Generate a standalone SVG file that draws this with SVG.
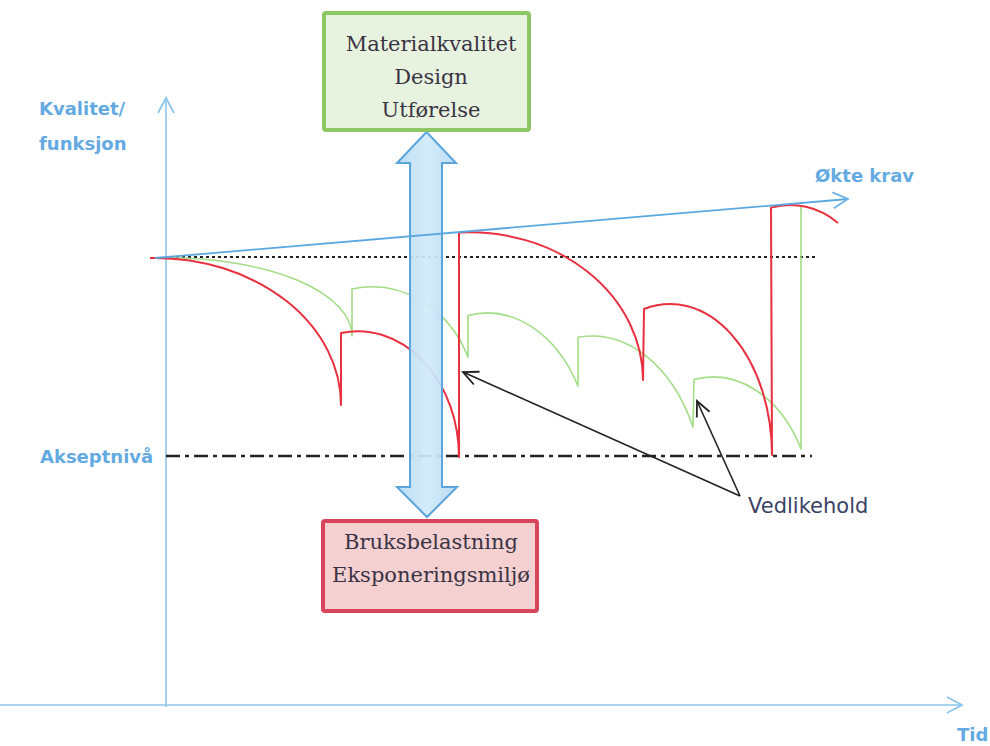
<svg xmlns="http://www.w3.org/2000/svg" width="990" height="746" viewBox="0 0 990 746">
  <style>
    .axis { stroke: #8cc4ea; stroke-width: 1.6; fill: none; }
    .lbl { font-family: "DejaVu Sans", "Liberation Sans", sans-serif; font-weight: bold; font-size: 18px; fill: #64aae2; }
    .box-txt { font-family: "DejaVu Serif", "Liberation Serif", serif; font-size: 21px; fill: #3a3344; text-anchor: middle; }
    .red { stroke: #e8303f; stroke-width: 2; fill: none; stroke-linejoin: round; }
    .green { stroke: #a3dd85; stroke-width: 1.6; fill: none; stroke-linejoin: round; }
    .pointer { stroke: #222; stroke-width: 1.6; fill: none; }
  </style>
  <defs>
    <marker id="openBlue" markerUnits="userSpaceOnUse" markerWidth="18" markerHeight="20" refX="16" refY="10" orient="auto">
      <path d="M1,2 L16,10 L1,18" fill="none" stroke="#6fb2e6" stroke-width="1.8"/>
    </marker>
    <marker id="openAxis" markerUnits="userSpaceOnUse" markerWidth="18" markerHeight="20" refX="16" refY="10" orient="auto">
      <path d="M1,2 L16,10 L1,18" fill="none" stroke="#8cc4ea" stroke-width="1.8"/>
    </marker>
    <marker id="openBlack" markerUnits="userSpaceOnUse" markerWidth="18" markerHeight="18" refX="16" refY="9" orient="auto">
      <path d="M1,2 L16,9 L1,16" fill="none" stroke="#222" stroke-width="1.8"/>
    </marker>
    <linearGradient id="arrowFill" x1="0" y1="0" x2="1" y2="0">
      <stop offset="0" stop-color="#b4d9f3"/>
      <stop offset="0.5" stop-color="#d2eaf9"/>
      <stop offset="1" stop-color="#b4d9f3"/>
    </linearGradient>
  </defs>

  <g id="axes">
    <line class="axis" x1="166" y1="707" x2="166" y2="98" marker-end="url(#openAxis)"/>
    <line class="axis" x1="0" y1="705" x2="962" y2="705" marker-end="url(#openAxis)"/>
  </g>

  <g id="levels">
    <line x1="170" y1="257" x2="815" y2="257" stroke="#222" stroke-width="2.2" stroke-dasharray="3 3"/>
    <line x1="166" y1="456" x2="812" y2="456" stroke="#222" stroke-width="2.5" stroke-dasharray="14 5 4 5"/>
  </g>

  <g id="curves">
    <path class="green" d="M150,258 L170,258 A182,78 0 0 1 352,336 L352,289 A105,118 0 0 1 468,357 L468,315.4 A105,146 0 0 1 578,386 L578,337.3 A113,165 0 0 1 693,427 L694,379.5 A100,137 0 0 1 801,449 L801,207"/>
    <path class="red" d="M150,258 L155,258 A186,147 0 0 1 341,405 L341,333 A101,126 0 0 1 459,457 L459,232.6 A173,148 0 0 1 643,380 L644,309 A102,151 0 0 1 772,455 L771,207.6 A80,90 0 0 1 838,223"/>
  </g>

  <g id="double-arrow">
    <polygon points="426.5,132 456,163 442,163 442,487 457,487 427,517 397,487 410,487 410,163 397,163" fill="url(#arrowFill)" fill-opacity="0.93" stroke="#5aa5dc" stroke-width="2" stroke-linejoin="miter"/>
  </g>

  <g id="connectors">
    <line x1="155" y1="258" x2="848" y2="199" stroke="#5ba8e0" stroke-width="1.8" marker-end="url(#openBlue)"/>
    <line class="pointer" x1="740" y1="496" x2="463" y2="372" marker-end="url(#openBlack)"/>
    <line class="pointer" x1="740" y1="496" x2="697" y2="401" marker-end="url(#openBlack)"/>
  </g>

  <g id="box-material">
    <rect x="324" y="13" width="205" height="117" rx="2" fill="#e8f3df" stroke="#8dc764" stroke-width="4"/>
    <text class="box-txt" x="431" y="51">Materialkvalitet</text>
    <text class="box-txt" x="431" y="84">Design</text>
    <text class="box-txt" x="431" y="117">Utførelse</text>
  </g>

  <g id="box-load">
    <rect x="323" y="521" width="214" height="90" rx="2" fill="#f4d0d1" stroke="#d8445a" stroke-width="4"/>
    <text class="box-txt" x="431" y="549">Bruksbelastning</text>
    <text class="box-txt" x="431" y="582">Eksponeringsmiljø</text>
  </g>

  <g id="labels">
    <text class="lbl" x="39" y="115">Kvalitet/</text>
    <text class="lbl" x="39" y="150">funksjon</text>
    <text class="lbl" x="40" y="463">Akseptnivå</text>
    <text class="lbl" x="815" y="182">Økte krav</text>
    <text class="lbl" x="957" y="741" font-size="17">Tid</text>
    <text x="748" y="513" font-family="DejaVu Sans, Liberation Sans, sans-serif" font-size="21" fill="#3b4266">Vedlikehold</text>
  </g>
</svg>
